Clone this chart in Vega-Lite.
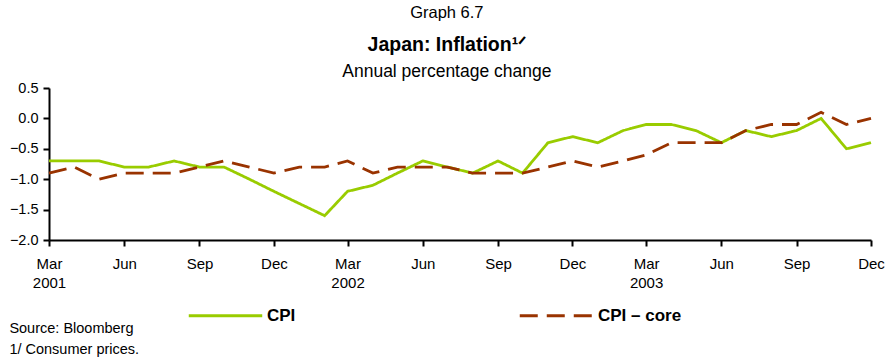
{
  "$schema": "https://vega.github.io/schema/vega-lite/v6.json",
  "padding": {"left": 9, "top": 4, "right": 6, "bottom": 2},
  "background": "white",
  "config": {
    "font": "Liberation Sans",
    "view": {"stroke": null},
    "axis": {"labelFont": "Liberation Sans", "labelColor": "black", "domainColor": "black", "tickColor": "black", "domainWidth": 2, "tickWidth": 2, "tickSize": 6, "grid": false, "title": null}
  },
  "title": {
    "text": "Source: Bloomberg",
    "subtitle": "1/ Consumer prices.",
    "orient": "bottom",
    "anchor": "start",
    "frame": "bounds",
    "font": "Liberation Sans",
    "fontSize": 14.5,
    "fontWeight": "normal",
    "color": "black",
    "subtitleFont": "Liberation Sans",
    "subtitleFontSize": 14.5,
    "subtitleColor": "black",
    "subtitlePadding": 6,
    "offset": -2
  },
  "vconcat": [
    {
      "title": {"text": "Graph 6.7", "anchor": "middle", "frame": "bounds", "font": "Liberation Sans", "fontSize": 16.5, "fontWeight": "normal", "color": "black", "offset": 14},
      "vconcat": [
        {
          "title": {
            "text": "Japan: Inflation¹ᐟ",
            "subtitle": "Annual percentage change",
            "anchor": "middle",
            "frame": "bounds",
            "font": "Liberation Sans",
            "fontSize": 19.5,
            "fontWeight": "bold",
            "color": "black",
            "subtitleFont": "Liberation Sans",
            "subtitleFontSize": 17.5,
            "subtitleColor": "black",
            "subtitlePadding": 7,
            "offset": -1
          },
          "width": 822,
          "height": 152,
          "data": {
            "values": [
              {"date": "2001-03-01", "series": "CPI", "value": -0.7},
              {"date": "2001-04-01", "series": "CPI", "value": -0.7},
              {"date": "2001-05-01", "series": "CPI", "value": -0.7},
              {"date": "2001-06-01", "series": "CPI", "value": -0.8},
              {"date": "2001-07-01", "series": "CPI", "value": -0.8},
              {"date": "2001-08-01", "series": "CPI", "value": -0.7},
              {"date": "2001-09-01", "series": "CPI", "value": -0.8},
              {"date": "2001-10-01", "series": "CPI", "value": -0.8},
              {"date": "2001-11-01", "series": "CPI", "value": -1.0},
              {"date": "2001-12-01", "series": "CPI", "value": -1.2},
              {"date": "2002-01-01", "series": "CPI", "value": -1.4},
              {"date": "2002-02-01", "series": "CPI", "value": -1.6},
              {"date": "2002-03-01", "series": "CPI", "value": -1.2},
              {"date": "2002-04-01", "series": "CPI", "value": -1.1},
              {"date": "2002-05-01", "series": "CPI", "value": -0.9},
              {"date": "2002-06-01", "series": "CPI", "value": -0.7},
              {"date": "2002-07-01", "series": "CPI", "value": -0.8},
              {"date": "2002-08-01", "series": "CPI", "value": -0.9},
              {"date": "2002-09-01", "series": "CPI", "value": -0.7},
              {"date": "2002-10-01", "series": "CPI", "value": -0.9},
              {"date": "2002-11-01", "series": "CPI", "value": -0.4},
              {"date": "2002-12-01", "series": "CPI", "value": -0.3},
              {"date": "2003-01-01", "series": "CPI", "value": -0.4},
              {"date": "2003-02-01", "series": "CPI", "value": -0.2},
              {"date": "2003-03-01", "series": "CPI", "value": -0.1},
              {"date": "2003-04-01", "series": "CPI", "value": -0.1},
              {"date": "2003-05-01", "series": "CPI", "value": -0.2},
              {"date": "2003-06-01", "series": "CPI", "value": -0.4},
              {"date": "2003-07-01", "series": "CPI", "value": -0.2},
              {"date": "2003-08-01", "series": "CPI", "value": -0.3},
              {"date": "2003-09-01", "series": "CPI", "value": -0.2},
              {"date": "2003-10-01", "series": "CPI", "value": 0.0},
              {"date": "2003-11-01", "series": "CPI", "value": -0.5},
              {"date": "2003-12-01", "series": "CPI", "value": -0.4},
              {"date": "2001-03-01", "series": "CPI – core", "value": -0.9},
              {"date": "2001-04-01", "series": "CPI – core", "value": -0.8},
              {"date": "2001-05-01", "series": "CPI – core", "value": -1.0},
              {"date": "2001-06-01", "series": "CPI – core", "value": -0.9},
              {"date": "2001-07-01", "series": "CPI – core", "value": -0.9},
              {"date": "2001-08-01", "series": "CPI – core", "value": -0.9},
              {"date": "2001-09-01", "series": "CPI – core", "value": -0.8},
              {"date": "2001-10-01", "series": "CPI – core", "value": -0.7},
              {"date": "2001-11-01", "series": "CPI – core", "value": -0.8},
              {"date": "2001-12-01", "series": "CPI – core", "value": -0.9},
              {"date": "2002-01-01", "series": "CPI – core", "value": -0.8},
              {"date": "2002-02-01", "series": "CPI – core", "value": -0.8},
              {"date": "2002-03-01", "series": "CPI – core", "value": -0.7},
              {"date": "2002-04-01", "series": "CPI – core", "value": -0.9},
              {"date": "2002-05-01", "series": "CPI – core", "value": -0.8},
              {"date": "2002-06-01", "series": "CPI – core", "value": -0.8},
              {"date": "2002-07-01", "series": "CPI – core", "value": -0.8},
              {"date": "2002-08-01", "series": "CPI – core", "value": -0.9},
              {"date": "2002-09-01", "series": "CPI – core", "value": -0.9},
              {"date": "2002-10-01", "series": "CPI – core", "value": -0.9},
              {"date": "2002-11-01", "series": "CPI – core", "value": -0.8},
              {"date": "2002-12-01", "series": "CPI – core", "value": -0.7},
              {"date": "2003-01-01", "series": "CPI – core", "value": -0.8},
              {"date": "2003-02-01", "series": "CPI – core", "value": -0.7},
              {"date": "2003-03-01", "series": "CPI – core", "value": -0.6},
              {"date": "2003-04-01", "series": "CPI – core", "value": -0.4},
              {"date": "2003-05-01", "series": "CPI – core", "value": -0.4},
              {"date": "2003-06-01", "series": "CPI – core", "value": -0.4},
              {"date": "2003-07-01", "series": "CPI – core", "value": -0.2},
              {"date": "2003-08-01", "series": "CPI – core", "value": -0.1},
              {"date": "2003-09-01", "series": "CPI – core", "value": -0.1},
              {"date": "2003-10-01", "series": "CPI – core", "value": 0.1},
              {"date": "2003-11-01", "series": "CPI – core", "value": -0.1},
              {"date": "2003-12-01", "series": "CPI – core", "value": 0.0}
            ]
          },
          "mark": {"type": "line", "strokeWidth": 2.8, "strokeCap": "butt"},
          "encoding": {
            "x": {
              "field": "date",
              "type": "temporal",
              "scale": {"type": "utc", "domain": [{"year": 2001, "month": 3, "date": 1, "utc": true}, {"year": 2003, "month": 12, "date": 1, "utc": true}]},
              "axis": {
                "values": [
                  {"year": 2001, "month": 3, "date": 1, "utc": true},
                  {"year": 2001, "month": 6, "date": 1, "utc": true},
                  {"year": 2001, "month": 9, "date": 1, "utc": true},
                  {"year": 2001, "month": 12, "date": 1, "utc": true},
                  {"year": 2002, "month": 3, "date": 1, "utc": true},
                  {"year": 2002, "month": 6, "date": 1, "utc": true},
                  {"year": 2002, "month": 9, "date": 1, "utc": true},
                  {"year": 2002, "month": 12, "date": 1, "utc": true},
                  {"year": 2003, "month": 3, "date": 1, "utc": true},
                  {"year": 2003, "month": 6, "date": 1, "utc": true},
                  {"year": 2003, "month": 9, "date": 1, "utc": true},
                  {"year": 2003, "month": 12, "date": 1, "utc": true}
                ],
                "labelExpr": "utcmonth(datum.value) == 2 ? [utcFormat(datum.value, '%b'), utcFormat(datum.value, '%Y')] : utcFormat(datum.value, '%b')",
                "labelFontSize": 15,
                "labelLineHeight": 19,
                "labelPadding": 10,
                "labelFlush": false,
                "labelOverlap": false
              }
            },
            "y": {
              "field": "value",
              "type": "quantitative",
              "scale": {"domain": [-2, 0.5], "nice": false, "zero": false},
              "axis": {"values": [-2, -1.5, -1, -0.5, 0, 0.5], "format": ".1f", "labelFontSize": 14.5, "labelPadding": 5}
            },
            "color": {
              "field": "series",
              "type": "nominal",
              "scale": {"domain": ["CPI", "CPI – core"], "range": ["#99cc00", "#993300"]},
              "legend": {
                "title": null,
                "orient": "none",
                "legendX": 138,
                "legendY": 189,
                "direction": "horizontal",
                "columns": 2,
                "columnPadding": 217,
                "symbolType": "stroke",
                "symbolSize": 5400,
                "symbolStrokeWidth": 3,
                "labelFont": "Liberation Sans",
                "labelFontSize": 17,
                "labelFontWeight": "bold",
                "labelColor": "black",
                "labelOffset": 3
              }
            },
            "strokeDash": {
              "field": "series",
              "type": "nominal",
              "scale": {"domain": ["CPI", "CPI – core"], "range": [[1, 0], [18, 9]]},
              "legend": null
            }
          }
        }
      ]
    }
  ]
}
